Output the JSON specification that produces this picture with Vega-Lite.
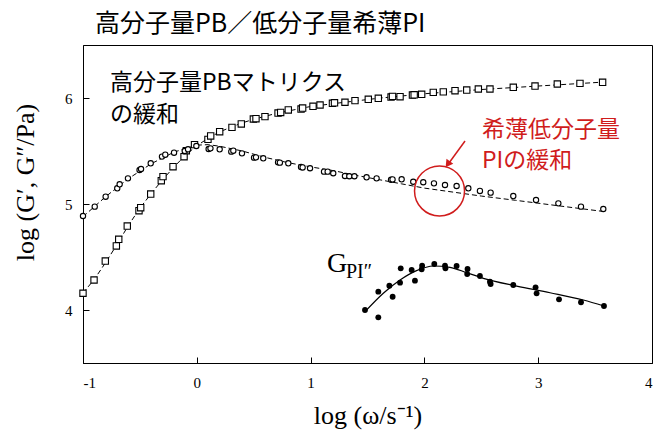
{
  "$schema": "https://vega.github.io/schema/vega-lite/v6.json",
  "autosize": {"type": "none"},
  "padding": {"left": 83, "top": 45, "right": 6, "bottom": 70},
  "width": 569,
  "height": 318,
  "background": "white",
  "title": {"text": "高分子量PB／低分子量希薄PI", "anchor": "start", "frame": "group", "dx": 12, "offset": 8, "font": "Noto Sans CJK JP", "fontSize": 25, "fontWeight": "normal", "color": "black"},
  "config": {
    "view": {"stroke": "black", "strokeWidth": 1},
    "axis": {"grid": false, "domainColor": "black", "tickColor": "black", "labelColor": "black", "titleColor": "black", "labelFont": "Liberation Serif", "labelFontSize": 15, "titleFont": "Liberation Serif", "titleFontSize": 26, "titleFontWeight": "normal", "tickSize": -6}
  },
  "datasets": {
    "gp": [
      {"x": -1.0, "y": 4.158}, {"x": -0.903, "y": 4.283}, {"x": -0.804, "y": 4.462}, {"x": -0.707, "y": 4.604}, {"x": -0.686, "y": 4.667},
      {"x": -0.611, "y": 4.792}, {"x": -0.508, "y": 4.937}, {"x": -0.493, "y": 4.965}, {"x": -0.405, "y": 5.094}, {"x": -0.312, "y": 5.22},
      {"x": -0.297, "y": 5.258}, {"x": -0.209, "y": 5.352}, {"x": -0.112, "y": 5.446}, {"x": -0.092, "y": 5.503}, {"x": -0.02, "y": 5.56},
      {"x": 0.098, "y": 5.61}, {"x": 0.122, "y": 5.642}, {"x": 0.201, "y": 5.682}, {"x": 0.309, "y": 5.723}, {"x": 0.391, "y": 5.755},
      {"x": 0.497, "y": 5.802}, {"x": 0.52, "y": 5.805}, {"x": 0.599, "y": 5.824}, {"x": 0.714, "y": 5.858}, {"x": 0.737, "y": 5.864},
      {"x": 0.804, "y": 5.887}, {"x": 0.916, "y": 5.896}, {"x": 0.93, "y": 5.905}, {"x": 1.021, "y": 5.922}, {"x": 1.083, "y": 5.934},
      {"x": 1.192, "y": 5.95}, {"x": 1.21, "y": 5.955}, {"x": 1.302, "y": 5.96}, {"x": 1.39, "y": 5.975}, {"x": 1.507, "y": 5.988},
      {"x": 1.595, "y": 5.997}, {"x": 1.707, "y": 6.009}, {"x": 1.72, "y": 6.015}, {"x": 1.786, "y": 6.012}, {"x": 1.895, "y": 6.028},
      {"x": 1.91, "y": 6.03}, {"x": 1.976, "y": 6.035}, {"x": 2.078, "y": 6.053}, {"x": 2.166, "y": 6.058}, {"x": 2.269, "y": 6.069},
      {"x": 2.372, "y": 6.075}, {"x": 2.474, "y": 6.085}, {"x": 2.576, "y": 6.085}, {"x": 2.781, "y": 6.101}, {"x": 2.972, "y": 6.113},
      {"x": 3.168, "y": 6.132}, {"x": 3.367, "y": 6.138}, {"x": 3.566, "y": 6.148}
    ],
    "gpp": [
      {"x": -1.0, "y": 4.887}, {"x": -0.897, "y": 4.975}, {"x": -0.801, "y": 5.069}, {"x": -0.699, "y": 5.148}, {"x": -0.678, "y": 5.186},
      {"x": -0.605, "y": 5.242}, {"x": -0.503, "y": 5.321}, {"x": -0.49, "y": 5.33}, {"x": -0.405, "y": 5.384}, {"x": -0.306, "y": 5.447},
      {"x": -0.277, "y": 5.465}, {"x": -0.2, "y": 5.484}, {"x": -0.106, "y": 5.5}, {"x": -0.077, "y": 5.516}, {"x": -0.004, "y": 5.547},
      {"x": 0.104, "y": 5.519}, {"x": 0.12, "y": 5.525}, {"x": 0.201, "y": 5.516}, {"x": 0.303, "y": 5.494}, {"x": 0.321, "y": 5.503},
      {"x": 0.397, "y": 5.478}, {"x": 0.503, "y": 5.437}, {"x": 0.52, "y": 5.44}, {"x": 0.584, "y": 5.431}, {"x": 0.714, "y": 5.393},
      {"x": 0.73, "y": 5.39}, {"x": 0.804, "y": 5.384}, {"x": 0.916, "y": 5.349}, {"x": 0.93, "y": 5.345}, {"x": 0.995, "y": 5.337},
      {"x": 1.118, "y": 5.305}, {"x": 1.15, "y": 5.305}, {"x": 1.199, "y": 5.29}, {"x": 1.302, "y": 5.264}, {"x": 1.34, "y": 5.262},
      {"x": 1.385, "y": 5.262}, {"x": 1.492, "y": 5.252}, {"x": 1.58, "y": 5.242}, {"x": 1.707, "y": 5.229}, {"x": 1.72, "y": 5.232},
      {"x": 1.8, "y": 5.233}, {"x": 1.902, "y": 5.21}, {"x": 1.99, "y": 5.205}, {"x": 2.084, "y": 5.195}, {"x": 2.181, "y": 5.179},
      {"x": 2.283, "y": 5.17}, {"x": 2.386, "y": 5.148}, {"x": 2.488, "y": 5.123}, {"x": 2.582, "y": 5.107}, {"x": 2.781, "y": 5.075},
      {"x": 2.981, "y": 5.038}, {"x": 3.177, "y": 5.006}, {"x": 3.376, "y": 4.975}, {"x": 3.572, "y": 4.953}
    ],
    "pi": [
      {"x": 1.478, "y": 4.0}, {"x": 1.595, "y": 3.931}, {"x": 1.595, "y": 4.173}, {"x": 1.692, "y": 4.229}, {"x": 1.721, "y": 4.125},
      {"x": 1.786, "y": 4.258}, {"x": 1.792, "y": 4.393}, {"x": 1.888, "y": 4.377}, {"x": 1.917, "y": 4.277}, {"x": 1.976, "y": 4.384},
      {"x": 1.98, "y": 4.418}, {"x": 2.087, "y": 4.434}, {"x": 2.181, "y": 4.418}, {"x": 2.185, "y": 4.393}, {"x": 2.283, "y": 4.415},
      {"x": 2.379, "y": 4.387}, {"x": 2.376, "y": 4.34}, {"x": 2.488, "y": 4.321}, {"x": 2.576, "y": 4.267}, {"x": 2.582, "y": 4.245},
      {"x": 2.781, "y": 4.236}, {"x": 2.977, "y": 4.214}, {"x": 2.986, "y": 4.157}, {"x": 3.183, "y": 4.101}, {"x": 3.376, "y": 4.073},
      {"x": 3.578, "y": 4.038}
    ],
    "fitgp": [
      {"x": -1.0, "y": 4.16}, {"x": -0.9, "y": 4.29}, {"x": -0.8, "y": 4.45}, {"x": -0.7, "y": 4.62}, {"x": -0.6, "y": 4.8},
      {"x": -0.5, "y": 4.96}, {"x": -0.4, "y": 5.1}, {"x": -0.3, "y": 5.23}, {"x": -0.2, "y": 5.35}, {"x": -0.1, "y": 5.46},
      {"x": 0.0, "y": 5.55}, {"x": 0.1, "y": 5.62}, {"x": 0.2, "y": 5.68}, {"x": 0.3, "y": 5.725}, {"x": 0.4, "y": 5.765},
      {"x": 0.5, "y": 5.8}, {"x": 0.7, "y": 5.855}, {"x": 1.0, "y": 5.92}, {"x": 1.3, "y": 5.96}, {"x": 1.6, "y": 5.998},
      {"x": 2.0, "y": 6.04}, {"x": 2.5, "y": 6.08}, {"x": 3.0, "y": 6.113}, {"x": 3.57, "y": 6.15}
    ],
    "fitgpp": [
      {"x": -1.0, "y": 4.88}, {"x": -0.8, "y": 5.07}, {"x": -0.6, "y": 5.24}, {"x": -0.4, "y": 5.38}, {"x": -0.2, "y": 5.49},
      {"x": 0.0, "y": 5.555}, {"x": 0.1, "y": 5.56}, {"x": 0.2, "y": 5.545}, {"x": 0.4, "y": 5.5}, {"x": 0.6, "y": 5.44},
      {"x": 0.8, "y": 5.39}, {"x": 1.0, "y": 5.35}, {"x": 1.2, "y": 5.315}, {"x": 1.4, "y": 5.27}, {"x": 1.6, "y": 5.23},
      {"x": 1.8, "y": 5.19}, {"x": 2.0, "y": 5.15}, {"x": 2.2, "y": 5.12}, {"x": 2.5, "y": 5.075}, {"x": 2.8, "y": 5.035},
      {"x": 3.2, "y": 4.98}, {"x": 3.57, "y": 4.93}
    ],
    "fitpi": [
      {"x": 1.478, "y": 3.984}, {"x": 1.639, "y": 4.158}, {"x": 1.786, "y": 4.283}, {"x": 1.931, "y": 4.371}, {"x": 2.078, "y": 4.415},
      {"x": 2.225, "y": 4.403}, {"x": 2.372, "y": 4.352}, {"x": 2.518, "y": 4.299}, {"x": 2.811, "y": 4.226}, {"x": 3.104, "y": 4.163},
      {"x": 3.397, "y": 4.094}, {"x": 3.578, "y": 4.038}
    ],
    "blacktext": [
      {"x": -0.763, "y": 6.14, "label": "高分子量PBマトリクス"},
      {"x": -0.763, "y": 5.835, "label": "の緩和"}
    ],
    "redtext": [
      {"x": 2.506, "y": 5.695, "label": "希薄低分子量"},
      {"x": 2.506, "y": 5.405, "label": "PIの緩和"}
    ],
    "gbig": [{"x": 1.144, "y": 4.358, "label": "G"}],
    "gsub": [{"x": 1.311, "y": 4.302, "label": "PI″"}],
    "ring": [{"x": 2.133, "y": 5.123}],
    "arrow": [{"x": 2.357, "y": 5.594, "x2": 2.205, "y2": 5.37}],
    "head": [{"x": 2.205, "y": 5.375}]
  },
  "layer": [
    {
      "data": {"name": "fitgp"},
      "mark": {"type": "line", "color": "black", "strokeWidth": 1, "strokeDash": [5, 3]},
      "encoding": {
        "x": {"field": "x", "type": "quantitative", "scale": {"domain": [-1, 4], "nice": false, "zero": false},
              "axis": {"values": [-1, 0, 1, 2, 3, 4], "labelExpr": "datum.value + ''", "title": "log (ω/s⁻¹)", "labelPadding": 18, "titleY": 60, "titleBaseline": "alphabetic"}},
        "y": {"field": "y", "type": "quantitative", "scale": {"domain": [3.5, 6.5], "nice": false, "zero": false},
              "axis": {"values": [4, 5, 6], "labelExpr": "datum.value + ''", "title": "log (G′, G″/Pa)", "labelPadding": 17, "titleX": -50, "titleY": 137, "titleAngle": -90, "titleAlign": "center", "titleBaseline": "alphabetic"}}
      }
    },
    {
      "data": {"name": "fitgpp"},
      "mark": {"type": "line", "color": "black", "strokeWidth": 1, "strokeDash": [5, 3]},
      "encoding": {"x": {"field": "x", "type": "quantitative"}, "y": {"field": "y", "type": "quantitative"}}
    },
    {
      "data": {"name": "fitpi"},
      "mark": {"type": "line", "color": "black", "strokeWidth": 1.2, "interpolate": "monotone"},
      "encoding": {"x": {"field": "x", "type": "quantitative"}, "y": {"field": "y", "type": "quantitative"}}
    },
    {
      "data": {"name": "gp"},
      "mark": {"type": "point", "shape": "square", "filled": true, "fill": "white", "stroke": "black", "strokeWidth": 1.1, "size": 40, "opacity": 1},
      "encoding": {"x": {"field": "x", "type": "quantitative"}, "y": {"field": "y", "type": "quantitative"}}
    },
    {
      "data": {"name": "gpp"},
      "mark": {"type": "point", "shape": "circle", "filled": true, "fill": "white", "stroke": "black", "strokeWidth": 1.1, "size": 28, "opacity": 1},
      "encoding": {"x": {"field": "x", "type": "quantitative"}, "y": {"field": "y", "type": "quantitative"}}
    },
    {
      "data": {"name": "pi"},
      "mark": {"type": "point", "shape": "circle", "filled": true, "color": "black", "size": 34, "opacity": 1},
      "encoding": {"x": {"field": "x", "type": "quantitative"}, "y": {"field": "y", "type": "quantitative"}}
    },
    {
      "data": {"name": "blacktext"},
      "mark": {"type": "text", "align": "left", "baseline": "middle", "font": "Noto Sans CJK JP", "fontSize": 23, "color": "black"},
      "encoding": {"x": {"field": "x", "type": "quantitative"}, "y": {"field": "y", "type": "quantitative"}, "text": {"field": "label"}}
    },
    {
      "data": {"name": "redtext"},
      "mark": {"type": "text", "align": "left", "baseline": "middle", "font": "Noto Sans CJK JP", "fontSize": 23, "color": "#d01c1c"},
      "encoding": {"x": {"field": "x", "type": "quantitative"}, "y": {"field": "y", "type": "quantitative"}, "text": {"field": "label"}}
    },
    {
      "data": {"name": "gbig"},
      "mark": {"type": "text", "align": "left", "baseline": "alphabetic", "font": "Liberation Serif", "fontSize": 28, "color": "black"},
      "encoding": {"x": {"field": "x", "type": "quantitative"}, "y": {"field": "y", "type": "quantitative"}, "text": {"field": "label"}}
    },
    {
      "data": {"name": "gsub"},
      "mark": {"type": "text", "align": "left", "baseline": "alphabetic", "font": "Liberation Serif", "fontSize": 20, "color": "black"},
      "encoding": {"x": {"field": "x", "type": "quantitative"}, "y": {"field": "y", "type": "quantitative"}, "text": {"field": "label"}}
    },
    {
      "data": {"name": "ring"},
      "mark": {"type": "point", "shape": "circle", "filled": false, "stroke": "#d01c1c", "strokeWidth": 1.5, "size": 2500, "opacity": 1},
      "encoding": {"x": {"field": "x", "type": "quantitative"}, "y": {"field": "y", "type": "quantitative"}}
    },
    {
      "data": {"name": "arrow"},
      "mark": {"type": "rule", "color": "#d01c1c", "strokeWidth": 1.5},
      "encoding": {"x": {"field": "x", "type": "quantitative"}, "y": {"field": "y", "type": "quantitative"}, "x2": {"field": "x2"}, "y2": {"field": "y2"}}
    },
    {
      "data": {"name": "head"},
      "mark": {"type": "point", "shape": "triangle-up", "filled": true, "color": "#d01c1c", "size": 70, "angle": 216, "opacity": 1},
      "encoding": {"x": {"field": "x", "type": "quantitative"}, "y": {"field": "y", "type": "quantitative"}}
    }
  ]
}
